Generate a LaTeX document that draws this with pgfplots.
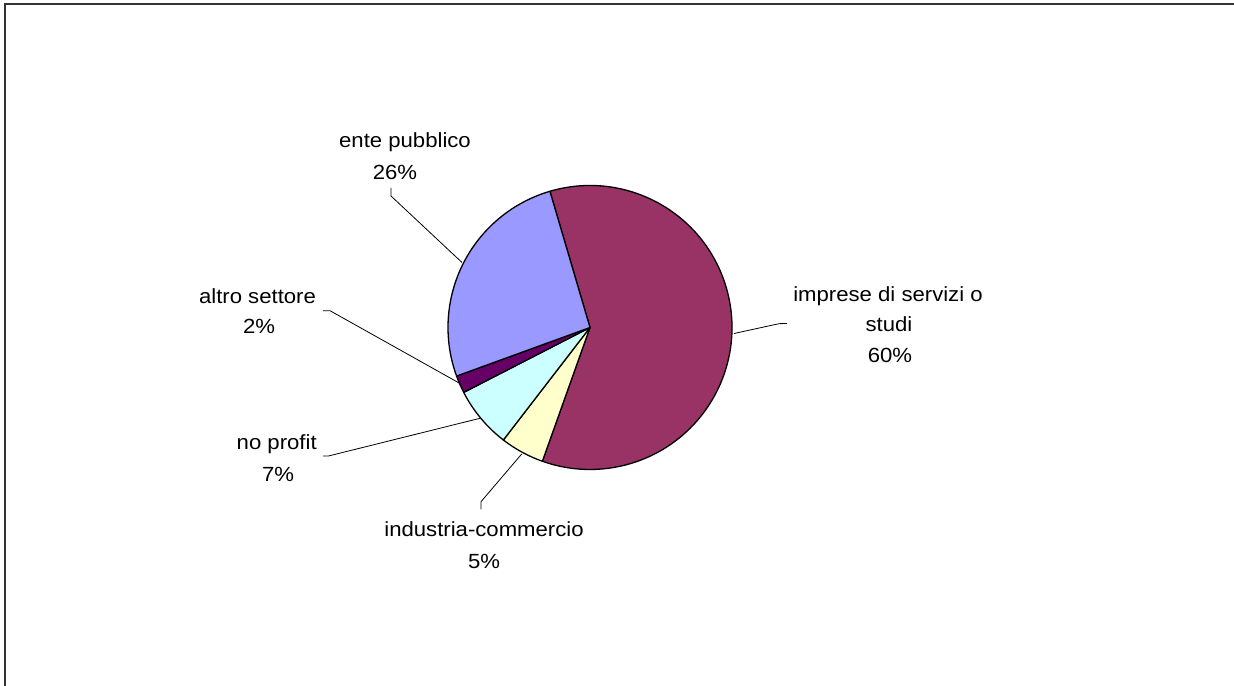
\documentclass[border=0pt]{standalone}
\usepackage{pgfplots}
\pgfplotsset{compat=1.18}
\usepackage{fontspec}
\setmainfont{Liberation Sans}[FakeStretch=1.08]

\definecolor{cImp}{HTML}{993366}
\definecolor{cInd}{HTML}{FFFFCC}
\definecolor{cNop}{HTML}{CCFFFF}
\definecolor{cAlt}{HTML}{660066}
\definecolor{cEnte}{HTML}{9999FF}

\tikzset{lbl/.style={font=\fontsize{20.5bp}{24bp}\selectfont, anchor=base, inner sep=0pt}}

\begin{document}
\begin{tikzpicture}
\fill[white] (0,0) rectangle (1234bp,686bp);
\begin{axis}[
    at={(0,0)}, anchor=south west,
    width=1234bp, height=686bp,
    scale only axis,
    xmin=0, xmax=1234,
    ymin=0, ymax=686,
    axis lines=none,
    ticks=none,
]
% frame (top and left edge only)
\draw[black!80, line width=2bp] (axis cs:5,0) -- (axis cs:5,682) -- (axis cs:1234,682);

% pie slices, clockwise from the top-left boundary
\def\angstart{106.4}
\pgfplotsforeachungrouped \v/\c in {60/cImp, 5/cInd, 7/cNop, 2/cAlt, 26/cEnte}{
    \pgfmathsetmacro\angend{\angstart-3.6*\v}
    \edef\temp{\noexpand\draw[fill=\c, draw=black, line width=1.3bp, line join=round]
        (axis cs:590,358.5) -- ++(\angstart:142bp)
        arc[start angle=\angstart, end angle=\angend, radius=142bp] -- cycle;}
    \temp
    \global\let\angstart\angend
}

% leader lines
\addplot[black, line width=0.8bp] coordinates {(391,498) (391,490) (462,423.5)};
\addplot[black, line width=0.8bp] coordinates {(323,375.3) (330,375.3) (460,302.5)};
\addplot[black, line width=0.8bp] coordinates {(323,230) (328.5,230) (480,267.7)};
\addplot[black, line width=0.8bp] coordinates {(481,176.7) (481,184.3) (521.7,232)};
\addplot[black, line width=0.8bp] coordinates {(734,352.5) (779,362.3) (787,362.6)};

% labels
\node[lbl] at (axis cs:405,538.7) {ente pubblico};
\node[lbl] at (axis cs:395,506.7) {26\%};
\node[lbl] at (axis cs:257.5,382) {altro settore};
\node[lbl] at (axis cs:259,352.7) {2\%};
\node[lbl] at (axis cs:276.7,236) {no profit};
\node[lbl] at (axis cs:278,204.3) {7\%};
\node[lbl] at (axis cs:888,384.3) {imprese di servizi o};
\node[lbl] at (axis cs:889,354) {studi};
\node[lbl] at (axis cs:890,323.3) {60\%};
\node[lbl] at (axis cs:484,149.3) {industria-commercio};
\node[lbl] at (axis cs:484,117.7) {5\%};
\end{axis}
\pgfresetboundingbox
\path[use as bounding box] (0,0) rectangle (1234bp,686bp);
\end{tikzpicture}
\end{document}
